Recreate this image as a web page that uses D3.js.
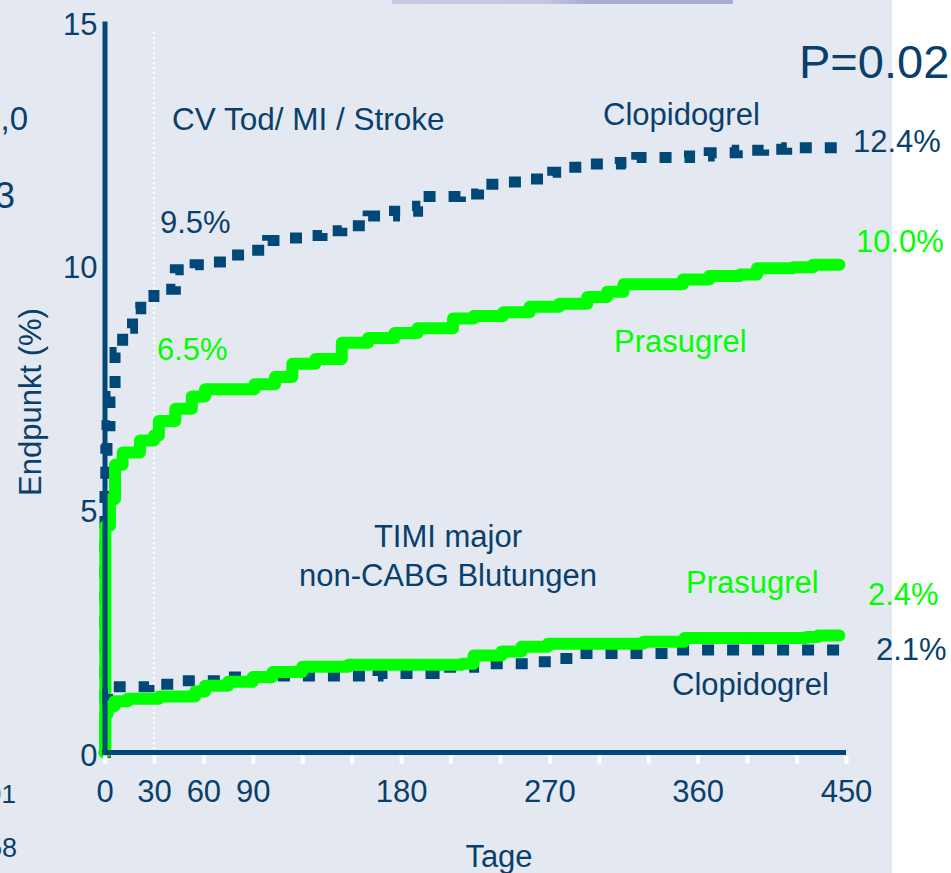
<!DOCTYPE html>
<html>
<head>
<meta charset="utf-8">
<script src="https://cdn.jsdelivr.net/npm/d3@7"></script>
<style>
  html, body { margin: 0; padding: 0; background: #ffffff; }
  svg { display: block; font-family: "Liberation Sans", Arial, sans-serif; }
</style>
</head>
<body>
<svg id="chart" width="951" height="873"></svg>
<script>
// Kaplan-Meier style cumulative event curves (days, percent)
const cvPrasugrelDays   = [0, 0.5, 3.3, 6.4, 11, 17, 21.5, 30, 33, 43, 53, 61, 75, 91, 103.5, 114, 128, 144, 160, 176, 190, 211.5, 224, 242, 258, 276, 293, 305, 315, 337, 351, 367, 385.6, 396, 418, 430, 446];
const cvPrasugrelValues = [0, 4.65, 5.2, 5.9, 6.15, 6.15, 6.4, 6.5, 6.8, 7.05, 7.3, 7.45, 7.45, 7.55, 7.7, 7.97, 8.07, 8.4, 8.5, 8.6, 8.7, 8.9, 8.95, 9.03, 9.14, 9.2, 9.34, 9.45, 9.6, 9.6, 9.7, 9.77, 9.8, 9.93, 9.95, 10.0, 10.0];

const cvClopidogrelDays   = [0, 0.3, 0.8, 1.5, 3.3, 6.4, 11, 17, 22, 30, 43, 55, 66, 76, 87, 99, 110, 120, 132, 144, 160, 176, 190, 197, 216, 227, 241, 256, 272, 281, 295, 313, 323, 340, 355, 367, 384, 400, 414, 446];
const cvClopidogrelValues = [0, 5.6, 6.2, 6.7, 7.3, 8.2, 8.7, 9.1, 9.35, 9.5, 9.9, 10.0, 10.06, 10.2, 10.3, 10.5, 10.55, 10.6, 10.7, 10.8, 11.0, 11.1, 11.2, 11.4, 11.45, 11.65, 11.7, 11.76, 11.9, 12.0, 12.07, 12.1, 12.2, 12.2, 12.23, 12.3, 12.35, 12.37, 12.4, 12.4];

const bleedPrasugrelDays   = [0, 0.3, 2, 6, 14, 33, 55, 61, 75, 90, 102, 120, 148, 217, 224, 241, 253, 269, 327, 352, 426, 433, 446];
const bleedPrasugrelValues = [0, 0.8, 0.95, 1.05, 1.1, 1.15, 1.25, 1.37, 1.45, 1.55, 1.65, 1.76, 1.8, 1.82, 1.99, 2.07, 2.17, 2.23, 2.27, 2.35, 2.37, 2.4, 2.4];

const bleedClopidogrelDays   = [0, 0.3, 2, 9, 27, 43, 75, 100, 166, 200, 224, 258, 276, 286, 342, 446];
const bleedClopidogrelValues = [0, 0.95, 1.2, 1.35, 1.4, 1.47, 1.55, 1.57, 1.62, 1.75, 1.82, 1.86, 1.93, 2.03, 2.1, 2.1];

// Axis ticks
const xTickValues  = [0, 30, 60, 90, 120, 150, 180, 210, 240, 270, 300, 330, 360, 390, 420, 450];
const xTickLabels  = [0, 30, 60, 90, 180, 270, 360, 450];
const yTickValues  = [0, 5, 10, 15];
const landmarkDay  = 30;

const DARK  = "#0a3f6c";
const LINE  = "#004877";
const GREEN = "#00ff00";

const svg = d3.select("#chart");

// Slide background and header strip
svg.append("rect").attr("x", 0).attr("y", 0).attr("width", 951).attr("height", 873).attr("fill", "#ffffff");
svg.append("rect").attr("x", 0).attr("y", 0).attr("width", 892).attr("height", 873).attr("fill", "#e4e9f1");

const defs = svg.append("defs");
const grad = defs.append("linearGradient").attr("id", "band").attr("x1", "0%").attr("x2", "100%");
grad.append("stop").attr("offset", "0%").attr("stop-color", "#c6c9e4");
grad.append("stop").attr("offset", "45%").attr("stop-color", "#c3c7e2");
grad.append("stop").attr("offset", "57%").attr("stop-color", "#a9add5");
grad.append("stop").attr("offset", "100%").attr("stop-color", "#a8acd4");
svg.append("rect").attr("x", 392).attr("y", 0).attr("width", 341).attr("height", 4).attr("fill", "url(#band)");

// Scales
const x = d3.scaleLinear().domain([0, 450]).range([104.5, 846]);
const y = d3.scaleLinear().domain([0, 15]).range([752.5, 21]);

// 30-day landmark
svg.append("line")
  .attr("x1", x(landmarkDay)).attr("x2", x(landmarkDay))
  .attr("y1", 32).attr("y2", y(0))
  .attr("stroke", "#ffffff").attr("stroke-width", 2)
  .attr("stroke-dasharray", "2,3");

const line = d3.line()
  .x(d => x(d[0]))
  .y(d => y(d[1]))
  .curve(d3.curveStepAfter);

const zip = (a, b) => a.map((d, i) => [d, b[i]]);

function clopidogrelPath(days, values) {
  svg.append("path")
    .datum(zip(days, values))
    .attr("d", line)
    .attr("fill", "none")
    .attr("stroke", LINE)
    .attr("stroke-width", 11)
    .attr("stroke-dasharray", "12,13")
    .attr("stroke-linejoin", "miter");
}
function prasugrelPath(days, values) {
  svg.append("path")
    .datum(zip(days, values))
    .attr("d", line)
    .attr("fill", "none")
    .attr("stroke", GREEN)
    .attr("stroke-width", 12)
    .attr("stroke-linejoin", "round")
    .attr("stroke-linecap", "round");
}

clopidogrelPath(cvClopidogrelDays, cvClopidogrelValues);
prasugrelPath(cvPrasugrelDays, cvPrasugrelValues);
clopidogrelPath(bleedClopidogrelDays, bleedClopidogrelValues);
prasugrelPath(bleedPrasugrelDays, bleedPrasugrelValues);

// X axis: heavy baseline plus white tick marks below it
svg.append("line")
  .attr("x1", x(0) - 2.5).attr("x2", x(450))
  .attr("y1", y(0)).attr("y2", y(0))
  .attr("stroke", LINE).attr("stroke-width", 5);

const xAxis = d3.axisBottom(x)
  .tickValues(xTickValues)
  .tickSize(8)
  .tickPadding(16)
  .tickFormat(d => xTickLabels.includes(d) ? d : "");
const gx = svg.append("g").attr("transform", `translate(0,${y(0) + 3})`).call(xAxis);
gx.select(".domain").remove();
gx.selectAll(".tick line").attr("stroke", "#ffffff").attr("stroke-width", 4);
gx.selectAll(".tick text")
  .attr("fill", DARK).attr("font-size", 31)
  .attr("font-family", "Liberation Sans, Arial, sans-serif");

// Y axis
const yAxis = d3.axisLeft(y).tickValues(yTickValues).tickSize(0).tickPadding(7).tickSizeOuter(0);
const gy = svg.append("g").attr("transform", "translate(104.5,0)").call(yAxis);
gy.select(".domain").attr("stroke", LINE).attr("stroke-width", 5);
gy.selectAll(".tick text")
  .attr("fill", DARK).attr("font-size", 31).attr("dy", "0.42em")
  .attr("font-family", "Liberation Sans, Arial, sans-serif");

// Text annotations
function label(txt, px, py, opts = {}) {
  return svg.append("text")
    .attr("x", px).attr("y", py)
    .attr("fill", opts.fill || DARK)
    .attr("font-size", opts.size || 31)
    .attr("text-anchor", opts.anchor || "start")
    .text(txt);
}

label("CV Tod/ MI / Stroke", 172, 130, { size: 31.5 });
label("Clopidogrel", 603, 125);
label("P=0.02", 799, 78, { size: 47 });
label("12.4%", 853, 152);
label("9.5%", 160, 233);
label("10.0%", 856, 252, { fill: GREEN });
label("6.5%", 157, 360, { fill: GREEN });
label("Prasugrel", 614, 352, { fill: GREEN });
label("TIMI major", 448, 547, { anchor: "middle" });
label("non-CABG Blutungen", 448, 586, { anchor: "middle" });
label("Prasugrel", 686, 593, { fill: GREEN });
label("2.4%", 868, 605, { fill: GREEN });
label("2.1%", 876, 660);
label("Clopidogrel", 672, 695);
label("Tage", 499, 867, { anchor: "middle" });

svg.append("text")
  .attr("transform", "translate(41,402) rotate(-90)")
  .attr("text-anchor", "middle")
  .attr("fill", DARK).attr("font-size", 31)
  .text("Endpunkt (%)");

// Neighbouring slide text running off the left edge
label(",0", 28, 130, { anchor: "end", size: 33 });
label("3", 15, 208, { anchor: "end", size: 36 });
label("91", 16, 803, { anchor: "end", size: 26 });
label("58", 17, 857, { anchor: "end", size: 27 });
</script>
</body>
</html>
